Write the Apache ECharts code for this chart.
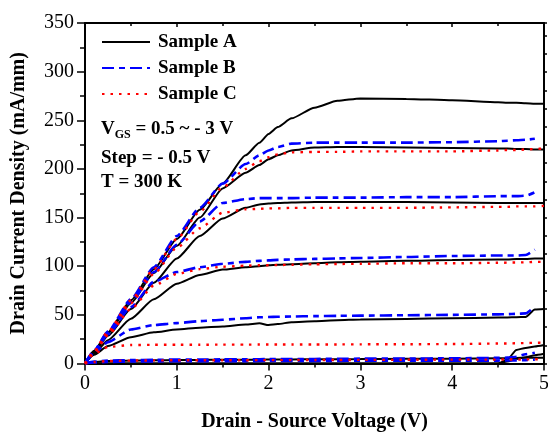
<!DOCTYPE html>
<html>
<head>
<meta charset="utf-8">
<script src="https://cdn.jsdelivr.net/npm/echarts@6/dist/echarts.min.js"></script>
<style>html,body{margin:0;padding:0;background:#fff;}#c{width:548px;height:432px;}</style>
</head>
<body>
<div id="c"></div>
<script>
// Drain-source voltage grid (V)
const V = [0, 0.1, 0.25, 0.5, 0.75, 1, 1.25, 1.5, 1.75, 1.9, 2, 2.1, 2.25, 2.5, 2.75, 3, 3.5, 4, 4.5, 4.6, 4.7, 4.8, 4.9, 5];

// Sample A curves (mA/mm)
const sampleA = [
  [0, 13, 32, 65, 97, 128, 158, 185, 214, 227, 236, 243, 252, 263, 270, 272.5, 272, 270.5, 268.5, 268, 268, 267.5, 267, 267],
  [0, 12.5, 31, 62, 93, 121, 150, 180, 196, 204, 210, 214, 219, 222, 222.5, 222.5, 222, 221.5, 221, 221, 220.5, 220.5, 220, 220],
  [0, 11.5, 28.5, 56, 83, 108, 131, 149, 160, 163.5, 164.5, 165, 165.5, 166, 166, 166, 166, 165.5, 165, 165, 165, 165, 165, 165],
  [0, 10, 24, 46, 66, 82, 91, 96.5, 99, 100, 101, 101.5, 102, 103, 104, 104.5, 105.5, 106.5, 107, 107, 107.5, 107.5, 108, 108],
  [0, 9, 18, 27, 32, 35, 36.8, 38, 40, 41.3, 39.5, 40.5, 42.5, 43.5, 44.5, 45.2, 45.8, 46.5, 47.2, 47.4, 47.6, 47.8, 55.5, 56],
  [0, 1.5, 2.5, 3, 3.3, 3.5, 3.7, 3.8, 3.9, 4, 4, 4.1, 4.2, 4.3, 4.4, 4.5, 4.8, 5, 5.3, 5.5, 5.7, 6, 6, 6],
  [0, 0, 0, 0, 0, 0, 0, 0, 0, 0, 0, 0, 0, 0, 0, 0, 0, 0, 0, 4, 14, 16, 17.5, 19],
  [0, 0, 0, 0, 0, 0, 0, 0, 0, 0, 0, 0, 0, 0, 0, 0, 0, 0, 0, 2, 4.5, 6.5, 8.5, 10]
];

// Sample B curves (mA/mm), measured up to 4.9 V
const sampleB = [
  [0, 13.5, 33, 66, 99, 131, 160, 185, 205, 214, 219, 222.5, 226, 227, 227, 227, 227, 227.5, 228.5, 229, 229.5, 230, 231, null],
  [0, 12.5, 32, 63, 94, 122, 146, 165, 169, 170, 170, 170, 170, 170.5, 170.5, 170.5, 171, 171, 172, 172, 172, 172.5, 176, null],
  [0, 12, 30, 58, 84, 94, 99, 102.5, 104.5, 105.5, 106, 106.5, 107, 107.5, 108, 108.5, 109.5, 110.5, 111, 111, 111, 111.5, 117, null],
  [0, 11, 22, 35, 39.5, 41.5, 43.5, 45, 46.5, 47.5, 47.8, 48, 48.3, 48.7, 49, 49.2, 49.6, 50, 50.5, 50.7, 51, 51.5, 58.5, null],
  [0, 2, 3, 3.5, 3.8, 4, 4.1, 4.2, 4.3, 4.4, 4.5, 4.5, 4.6, 4.7, 4.8, 5, 5.1, 5.3, 5.8, 6, 7, 9.5, 11, null],
  [0, 1, 1.5, 2, 2.2, 2.3, 2.3, 2.4, 2.4, 2.5, 2.5, 2.5, 2.6, 2.6, 2.7, 2.8, 2.9, 3, 3, 3.1, 3.2, 3.5, 4, null]
];

// Sample C curves (mA/mm)
const sampleC = [
  [0, 13, 33, 65, 97, 128, 156, 181, 200, 208, 212, 215, 217, 217.5, 217.5, 218, 218, 218, 219, 219.5, 219.5, 220, 220.5, 221],
  [0, 12, 31, 62, 92, 119, 139, 155, 158.5, 159, 159.5, 159.5, 160, 160, 160, 160, 160, 160.5, 161, 161, 161.5, 161.5, 161.5, 162],
  [0, 11.5, 29, 56, 80, 92, 97, 99.5, 100.5, 101, 101, 101.2, 101.5, 102, 102.3, 102.5, 103, 103, 103.5, 103.7, 103.8, 104, 104.5, 104.5],
  [0, 10, 17, 19, 19.2, 19.3, 19.3, 19.4, 19.4, 19.5, 19.5, 19.5, 19.5, 19.6, 19.6, 19.7, 19.8, 20, 20.5, 20.6, 20.8, 21, 21.3, 21.5],
  [0, 1.5, 2.5, 3, 3.2, 3.3, 3.3, 3.4, 3.4, 3.5, 3.5, 3.5, 3.5, 3.6, 3.6, 3.7, 3.8, 4, 4, 4.1, 4.1, 4.2, 4.3, 4.5]
];

const xTicks = [0, 1, 2, 3, 4, 5];
const yTicks = [0, 50, 100, 150, 200, 250, 300, 350];

const FONT = "'Liberation Serif', 'Times New Roman', serif";

function toPairs(vals) {
  const out = [];
  for (let i = 0; i < V.length; i++) if (vals[i] !== null) out.push([V[i], vals[i]]);
  return out;
}

const styles = {
  'Sample A': { color: '#000000', width: 2, type: 'solid' },
  'Sample B': { color: '#0000ff', width: 2.6, type: [12, 5, 6, 5] },
  'Sample C': { color: '#ff0000', width: 2.4, type: [2.5, 6] }
};

const series = [];
[['Sample A', sampleA], ['Sample B', sampleB], ['Sample C', sampleC]].forEach(([name, curves]) => {
  curves.forEach(vals => {
    series.push({
      type: 'line', name: name, data: toPairs(vals),
      xAxisIndex: 0, yAxisIndex: 0,
      symbol: 'none', showSymbol: false,
      smooth: 0.2, smoothMonotone: 'x',
      lineStyle: styles[name], itemStyle: { color: styles[name].color },
      emphasis: { disabled: true }, animation: false
    });
  });
});

const chart = echarts.init(document.getElementById('c'), null, { renderer: 'canvas' });
chart.setOption({
  animation: false,
  backgroundColor: '#fff',
  grid: { left: 85, right: 4, top: 23, bottom: 68.5, containLabel: false, outerBoundsMode: 'none' },
  legend: {
    data: ['Sample A', 'Sample B', 'Sample C'],
    orient: 'vertical', left: 101, top: 32, padding: 0,
    itemWidth: 48, itemHeight: 14, itemGap: 6,
    itemStyle: { opacity: 0 },
    textStyle: { fontFamily: FONT, fontWeight: 'bold', fontSize: 19, color: '#000', lineHeight: 20, padding: [0, 0, 0, 3] },
    selectedMode: false
  },
  xAxis: [
    {
      type: 'value', position: 'bottom', min: xTicks[0], max: xTicks[xTicks.length - 1], interval: 1,
      name: 'Drain - Source Voltage (V)', nameLocation: 'middle', nameGap: 48,
      nameTextStyle: { fontFamily: FONT, fontWeight: 'bold', fontSize: 20, color: '#000' },
      axisLine: { onZero: false, lineStyle: { color: '#000', width: 2 } },
      axisTick: { show: true, length: 7, lineStyle: { color: '#000', width: 1.5 } },
      minorTick: { show: true, splitNumber: 2, length: 4, lineStyle: { color: '#000', width: 1.5 } },
      axisLabel: { fontFamily: FONT, fontSize: 20, color: '#000', margin: 10 },
      splitLine: { show: false }
    },
    {
      type: 'value', position: 'top', min: 0, max: 5, interval: 1,
      axisLine: { onZero: false, lineStyle: { color: '#000', width: 2 } },
      axisTick: { show: true, inside: true, length: 4, lineStyle: { color: '#000', width: 1.5 } },
      minorTick: { show: true, splitNumber: 2, length: 3, lineStyle: { color: '#000', width: 1.5 } },
      axisLabel: { show: false }, splitLine: { show: false }
    }
  ],
  yAxis: [
    {
      type: 'value', position: 'left', min: yTicks[0], max: yTicks[yTicks.length - 1], interval: 50,
      name: 'Drain Current Density (mA/mm)', nameLocation: 'middle', nameGap: 56,
      nameTextStyle: { fontFamily: FONT, fontWeight: 'bold', fontSize: 20, color: '#000' },
      axisLine: { onZero: false, lineStyle: { color: '#000', width: 2 } },
      axisTick: { show: true, length: 8, lineStyle: { color: '#000', width: 1.5 } },
      minorTick: { show: true, splitNumber: 2, length: 5, lineStyle: { color: '#000', width: 1.5 } },
      axisLabel: { fontFamily: FONT, fontSize: 20, color: '#000', margin: 11 },
      splitLine: { show: false }
    },
    {
      type: 'value', position: 'right', min: 0, max: 18.7, interval: 1,
      axisLine: { onZero: false, lineStyle: { color: '#000', width: 2 } },
      axisTick: { show: true, length: 3, lineStyle: { color: '#000', width: 1.5 } },
      axisLabel: { show: false }, splitLine: { show: false }
    }
  ],
  graphic: [
    {
      type: 'text', left: 101, top: 117,
      style: {
        text: '{a|V}{b|GS}{a| = 0.5 ~ - 3 V}',
        rich: {
          a: { fontFamily: FONT, fontWeight: 'bold', fontSize: 19, fill: '#000', lineHeight: 22 },
          b: { fontFamily: FONT, fontWeight: 'bold', fontSize: 12, fill: '#000', lineHeight: 22, padding: [12, 0, 0, 0] }
        }
      }
    },
    {
      type: 'text', left: 101, top: 149,
      style: { text: 'Step = - 0.5 V', fontFamily: FONT, fontWeight: 'bold', fontSize: 19, fill: '#000' }
    },
    {
      type: 'text', left: 101, top: 173,
      style: { text: 'T = 300 K', fontFamily: FONT, fontWeight: 'bold', fontSize: 19, fill: '#000' }
    }
  ],
  series: series
});
</script>
</body>
</html>
